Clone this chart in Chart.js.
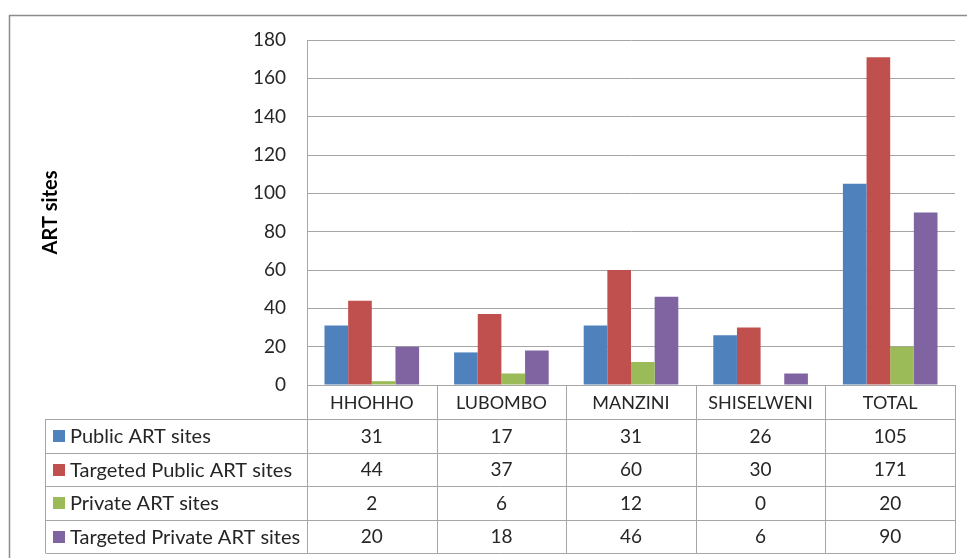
<!DOCTYPE html>
<html>
<head>
<meta charset="utf-8">
<script src="https://cdn.jsdelivr.net/npm/chart.js@4.4.1/dist/chart.umd.min.js"></script>
<style>
  html, body { margin: 0; padding: 0; background: #ffffff; }
  #wrap { width: 967px; height: 558px; position: relative; }
</style>
</head>
<body>
<div id="wrap"><canvas id="chart" width="967" height="558"></canvas></div>
<script>
// Regions and ART site counts
const regions = ['HHOHHO', 'LUBOMBO', 'MANZINI', 'SHISELWENI', 'TOTAL'];
const publicSites = [31, 17, 31, 26, 105];
const targetedPublicSites = [44, 37, 60, 30, 171];
const privateSites = [2, 6, 12, 0, 20];
const targetedPrivateSites = [20, 18, 46, 6, 90];
const yTicks = [0, 20, 40, 60, 80, 100, 120, 140, 160, 180];

const FONT = 'Lato, "Open Sans", "Liberation Sans", sans-serif';
const TEXT = '#262626';
const LINE = '#a6a6a6';

// Layout of the data table under the plot
const TABLE_LEFT = 45.5;
const ROW_H = 33.5;

const dataTable = {
  id: 'dataTable',
  afterDraw(chart) {
    const ctx = chart.ctx;
    const area = chart.chartArea;
    const x = chart.scales.x;
    const n = chart.data.labels.length;
    const colW = x.getPixelForValue(1) - x.getPixelForValue(0);
    const edges = [];
    for (let i = 0; i <= n; i++) edges.push(Math.round(x.getPixelForValue(0) - colW / 2 + i * colW) + 0.5);
    const top = Math.round(area.bottom) + 0.5;
    const rows = chart.data.datasets.length;
    const bottom = top + (rows + 1) * ROW_H;

    ctx.save();
    // outer frame
    ctx.strokeStyle = '#8c8c8c';
    ctx.lineWidth = 1.5;
    ctx.strokeRect(9.5, 15.5, 980, 560);

    ctx.strokeStyle = LINE;
    ctx.lineWidth = 1;
    ctx.beginPath();
    // horizontal rules
    for (let r = 1; r <= rows + 1; r++) {
      const y = Math.round(top + r * ROW_H) + 0.5;
      ctx.moveTo(TABLE_LEFT, y);
      ctx.lineTo(edges[n], y);
    }
    // column dividers
    edges.forEach(ex => { ctx.moveTo(ex, top); ctx.lineTo(ex, bottom); });
    ctx.moveTo(TABLE_LEFT, top + ROW_H);
    ctx.lineTo(TABLE_LEFT, bottom);
    ctx.stroke();

    ctx.fillStyle = TEXT;
    ctx.textBaseline = 'middle';
    ctx.textAlign = 'center';
    // category header row
    ctx.font = '18px ' + FONT;
    chart.data.labels.forEach((lab, i) => {
      ctx.fillText(lab, x.getPixelForValue(i), top + ROW_H / 2 + 1);
    });
    // series rows
    chart.data.datasets.forEach((ds, r) => {
      const cy = top + (r + 1.5) * ROW_H + 1;
      ctx.fillStyle = ds.backgroundColor;
      ctx.fillRect(53, Math.round(cy - 6.5), 12, 12);
      ctx.fillStyle = TEXT;
      ctx.textAlign = 'left';
      ctx.font = '20px ' + FONT;
      ctx.fillText(ds.label, 70, cy);
      ctx.textAlign = 'center';
      ctx.font = '19px ' + FONT;
      ds.data.forEach((v, i) => ctx.fillText(String(v), x.getPixelForValue(i), cy));
    });
    ctx.restore();
  }
};

new Chart(document.getElementById('chart'), {
  type: 'bar',
  data: {
    labels: regions,
    datasets: [
      { label: 'Public ART sites', data: publicSites, backgroundColor: '#4f81bd' },
      { label: 'Targeted Public ART sites', data: targetedPublicSites, backgroundColor: '#c0504d' },
      { label: 'Private ART sites', data: privateSites, backgroundColor: '#9bbb59' },
      { label: 'Targeted Private ART sites', data: targetedPrivateSites, backgroundColor: '#8064a2' }
    ]
  },
  options: {
    responsive: false,
    animation: false,
    devicePixelRatio: 1,
    layout: { padding: { left: 0, right: 12, top: 40, bottom: 0 } },
    datasets: { bar: { categoryPercentage: 0.73, barPercentage: 1 } },
    plugins: { legend: { display: false }, tooltip: { enabled: false } },
    scales: {
      x: {
        ticks: { display: false },
        grid: { display: false },
        border: { display: true, color: LINE, width: 1 },
        afterFit(scale) { scale.height = 173; }
      },
      y: {
        min: 0,
        max: 180,
        afterBuildTicks(scale) { scale.ticks = yTicks.map(v => ({ value: v })); },
        ticks: { padding: 21, color: TEXT, font: { family: FONT, size: 19 } },
        grid: { color: LINE, drawTicks: false },
        border: { display: true, color: LINE, width: 1 },
        title: {
          display: true,
          text: 'ART sites',
          color: '#000000',
          font: { family: FONT, size: 20, weight: 'bold' },
          padding: { top: 39, bottom: 0 }
        },
        afterFit(scale) { scale.width = 307; }
      }
    }
  },
  plugins: [dataTable]
});
</script>
</body>
</html>
